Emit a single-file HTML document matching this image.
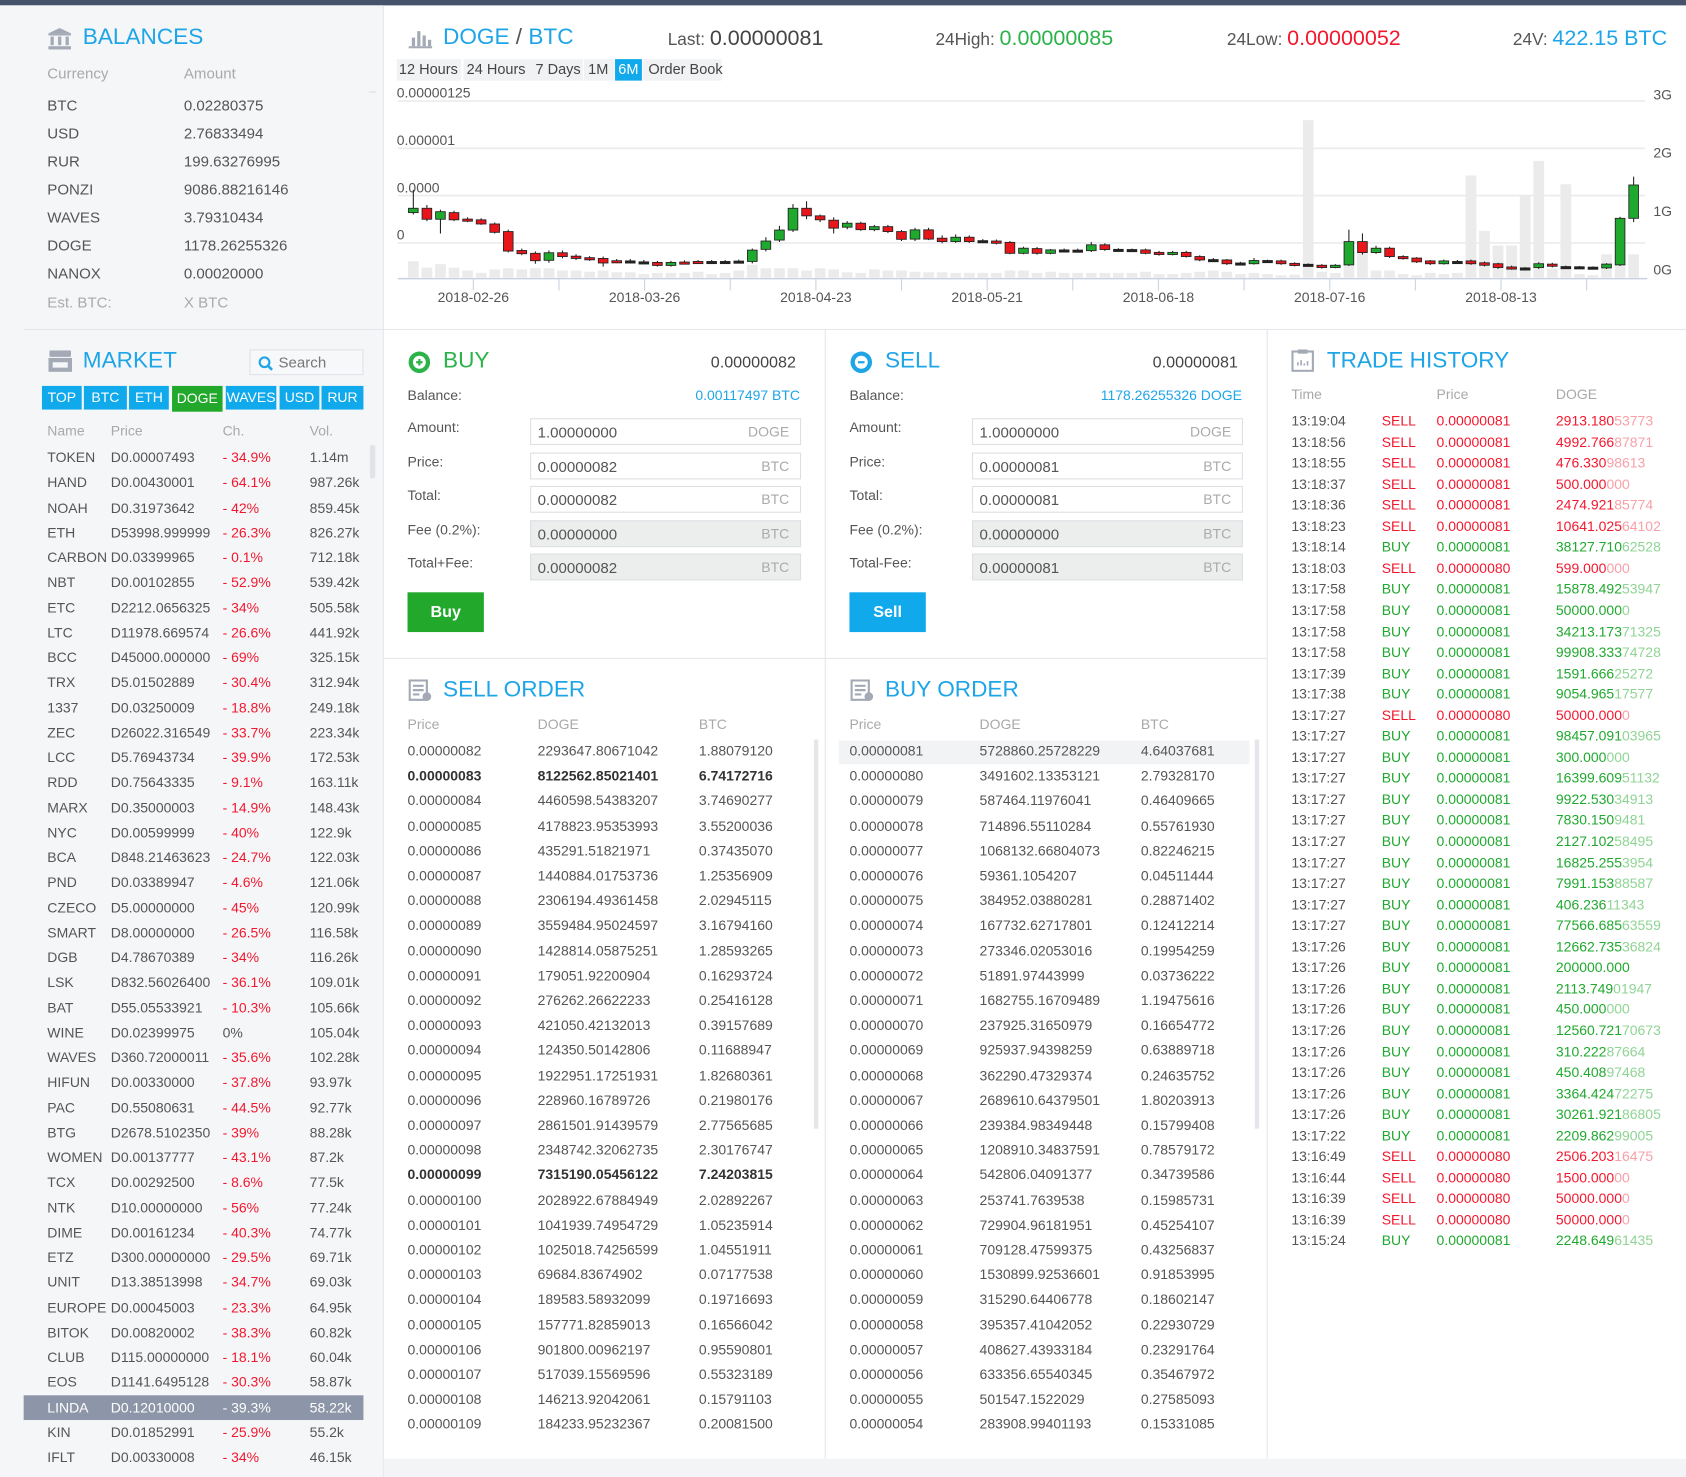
<!DOCTYPE html>
<html><head><meta charset="utf-8">
<style>
*{box-sizing:border-box;margin:0;padding:0}
html,body{width:1686px;height:1477px;overflow:hidden;background:#fff}
body{font-family:"Liberation Sans",sans-serif;color:#555}
#wrap{position:absolute;left:0;top:0;width:1568px;height:1374px;transform:scale(1.07526,1.07496);transform-origin:0 0;background:#fff;font-size:13px}
.a{position:absolute;white-space:nowrap}
.title{font-size:21px;color:#1ea5e8}
.hd{color:#a9a9a9}
.inp{position:absolute;height:25px;border:1px solid #dcdfe3;background:#fff;font-size:14px;padding:4px 6px;color:#555}
.inp span{position:absolute;right:10px;top:4px;color:#aaa;font-size:13px}
.inp.g{background:#eceded}
.red{color:#f3172e}.grn{color:#1fa92e}
</style></head><body>
<div id="wrap">
<div class="a" style="left:0;top:0;width:1568px;height:5px;background:#46546b"></div>
<div class="a" style="left:0;top:5px;width:356px;height:1369px;background:#f5f6f8"></div>
<div class="a" style="left:356px;top:5px;width:1px;height:1369px;background:#e4e6ea"></div>
<div class="a" style="left:22px;top:306px;width:1546px;height:1px;background:#e4e6ea"></div>
<div class="a" style="left:357px;top:612px;width:821px;height:1px;background:#e4e6ea"></div>
<div class="a" style="left:767px;top:307px;width:1px;height:1050px;background:#e4e6ea"></div>
<div class="a" style="left:1178px;top:307px;width:1px;height:1050px;background:#e4e6ea"></div>
<div class="a" style="left:357px;top:1357px;width:1211px;height:17px;background:#f3f4f6"></div>

<!-- balances -->
<svg class="a" style="left:44px;top:25px" width="23" height="21"><path d="M11.5 1 L22 6 L1 6 Z" fill="#a3aab6"/><rect x="1" y="6" width="21" height="2" fill="#a3aab6"/><rect x="3" y="9" width="3" height="8" fill="#a3aab6"/><rect x="10" y="9" width="3" height="8" fill="#a3aab6"/><rect x="17" y="9" width="3" height="8" fill="#a3aab6"/><rect x="1" y="18" width="21" height="3" fill="#a3aab6"/></svg>
<div class="a title" style="left:77px;top:23px">BALANCES</div>
<div class="a hd" style="left:44px;top:60px;font-size:14px">Currency</div>
<div class="a hd" style="left:171px;top:60px;font-size:14px">Amount</div>
<div id="bal"></div>
<div class="a" style="left:343px;top:85px;width:7px;height:1px;background:#ddd"></div>

<!-- market -->
<svg class="a" style="left:45px;top:326px" width="22" height="20"><rect x="1" y="0" width="20" height="6" rx="1" fill="#a3aab6"/><rect x="0" y="7" width="22" height="13" fill="#a3aab6"/><rect x="4" y="11" width="14" height="5" fill="#f5f6f8"/></svg>
<div class="a title" style="left:77px;top:324px">MARKET</div>
<div class="a" style="left:232px;top:325px;width:106px;height:24px;border:1px solid #dfe2e6;background:#f7f8fa">
<svg class="a" style="left:7px;top:5px" width="14" height="14"><circle cx="6" cy="6" r="4.5" stroke="#1ea5e8" stroke-width="2" fill="none"/><line x1="9.5" y1="9.5" x2="13" y2="13" stroke="#1ea5e8" stroke-width="2.4"/></svg>
<span class="a" style="left:26px;top:3px;color:#777;font-size:14px">Search</span></div>
<div id="tabs"></div>
<div class="a hd" style="left:44px;top:393px">Name</div><div class="a hd" style="left:103px;top:393px">Price</div><div class="a hd" style="left:207px;top:393px">Ch.</div><div class="a hd" style="left:288px;top:393px">Vol.</div>
<div class="a" style="left:22px;top:1298px;width:316px;height:23px;background:#8d96a8"></div>
<div class="a" style="left:344px;top:414px;width:5px;height:31px;background:#e1e3e7;border-radius:2px"></div>
<div id="mkt"></div>

<!-- chart header -->
<svg class="a" style="left:380px;top:27px" width="22" height="18"><rect x="0" y="16" width="22" height="2" fill="#a3aab6"/><rect x="3" y="8" width="3" height="8" fill="#a3aab6"/><rect x="8" y="2" width="3" height="14" fill="#a3aab6"/><rect x="13" y="6" width="3" height="10" fill="#a3aab6"/><rect x="18" y="10" width="3" height="6" fill="#a3aab6"/></svg>
<div class="a title" style="left:412px;top:23px">DOGE <span style="color:#555">/</span> BTC</div>
<div class="a" style="left:621px;top:25px;font-size:16px;color:#555">Last: <span style="font-size:20px;color:#444">0.00000081</span></div>
<div class="a" style="left:870px;top:25px;font-size:16px;color:#555">24High: <span style="font-size:20px;color:#2bb34a">0.00000085</span></div>
<div class="a" style="left:1141px;top:25px;font-size:16px;color:#555">24Low: <span style="font-size:20px;color:#f3172e">0.00000052</span></div>
<div class="a" style="left:1407px;top:25px;font-size:16px;color:#555">24V: <span style="font-size:20px;color:#1ea5e8">422.15 BTC</span></div>
<div id="rng"></div>
<svg id="chart" class="a" style="left:360px;top:78px" width="1208" height="220"></svg>

<!-- buy -->
<svg class="a" style="left:379px;top:326px" width="22" height="22"><circle cx="11" cy="11" r="10" fill="#2bb34a"/><circle cx="11" cy="11" r="6" fill="#fff"/><path d="M8 11h6M11 8v6" stroke="#2bb34a" stroke-width="2"/></svg>
<div class="a title" style="left:412px;top:324px;color:#2bb34a">BUY</div>
<div class="a" style="left:661px;top:329px;font-size:15px;color:#444">0.00000082</div>
<div class="a" style="left:379px;top:360px">Balance:</div>
<div class="a" style="right:824px;top:360px;color:#1ea5e8">0.00117497 BTC</div>
<svg class="a" style="left:790px;top:326px" width="22" height="22"><circle cx="11" cy="11" r="10" fill="#1ea5e8"/><circle cx="11" cy="11" r="6" fill="#fff"/><path d="M8 11h6" stroke="#1ea5e8" stroke-width="2"/></svg>
<div class="a title" style="left:823px;top:324px">SELL</div>
<div class="a" style="left:1072px;top:329px;font-size:15px;color:#444">0.00000081</div>
<div class="a" style="left:790px;top:360px">Balance:</div>
<div class="a" style="right:413px;top:360px;color:#1ea5e8">1178.26255326 DOGE</div>
<div id="forms"></div>
<div class="a" style="left:379px;top:551px;width:71px;height:37px;background:#22a92c;color:#fff;font-size:15px;text-align:center;line-height:37px;font-weight:bold">Buy</div>
<div class="a" style="left:790px;top:551px;width:71px;height:37px;background:#10a9ec;color:#fff;font-size:15px;text-align:center;line-height:37px;font-weight:bold">Sell</div>

<!-- orders -->
<svg class="a" style="left:380px;top:632px" width="22" height="21"><rect x="1" y="1" width="16" height="18" fill="none" stroke="#a3aab6" stroke-width="2"/><path d="M4 6h10M4 10h10M4 14h6" stroke="#a3aab6" stroke-width="2"/><circle cx="17" cy="16" r="4" fill="#a3aab6"/></svg>
<div class="a title" style="left:412px;top:630px">SELL ORDER</div>
<svg class="a" style="left:791px;top:632px" width="22" height="21"><rect x="1" y="1" width="16" height="18" fill="none" stroke="#a3aab6" stroke-width="2"/><path d="M4 6h10M4 10h10M4 14h6" stroke="#a3aab6" stroke-width="2"/><circle cx="17" cy="16" r="4" fill="#a3aab6"/></svg>
<div class="a title" style="left:823px;top:630px">BUY ORDER</div>
<div class="a hd" style="left:379px;top:666px">Price</div><div class="a hd" style="left:500px;top:666px">DOGE</div><div class="a hd" style="left:650px;top:666px">BTC</div>
<div class="a hd" style="left:790px;top:666px">Price</div><div class="a hd" style="left:911px;top:666px">DOGE</div><div class="a hd" style="left:1061px;top:666px">BTC</div>
<div class="a" style="left:757px;top:688px;width:4px;height:362px;background:#e4e6ea"></div>
<div class="a" style="left:1167px;top:688px;width:4px;height:362px;background:#e4e6ea"></div>
<div class="a" style="left:780px;top:689px;width:382px;height:22px;background:#f2f3f5"></div>
<div id="orders"></div>

<!-- trade history -->
<svg class="a" style="left:1201px;top:325px" width="21" height="21"><rect x="1" y="2" width="19" height="18" fill="none" stroke="#a3aab6" stroke-width="2"/><rect x="6" y="0" width="9" height="4" fill="#a3aab6"/><path d="M6 15v-3M9 15v-5M12 15v-2M15 15v-4" stroke="#a3aab6" stroke-width="1.5"/></svg>
<div class="a title" style="left:1234px;top:324px">TRADE HISTORY</div>
<div class="a hd" style="left:1201px;top:359px">Time</div><div class="a hd" style="left:1336px;top:359px">Price</div><div class="a hd" style="left:1447px;top:359px">DOGE</div>
<div id="hist"></div>
</div>

<script>
// ---------- chart data (price in 1e-8 BTC, volume in G) ----------
const candleOpen=[66,68.3,62.5,66,62.6,62.2,60,56,46,44.5,40.8,44.8,43,42.2,41.8,40.6,40.5,40,39.7,38.1,39.9,40.2,39.8,40.2,40,40.2,46.6,51.5,56.8,68.3,64.3,62,58.3,60.4,57,58.6,56,52,56.9,52.5,50.7,53,51.2,51,50.3,44.5,47,44.5,46.3,45.8,45.9,49,46.6,46.5,46.3,45,44,45,42.8,41.2,41,39.4,39,40.7,40.5,39.2,38.7,38.2,37,38.4,50.7,44.9,47.2,42.8,42,40.5,39,40.2,40.5,39.5,39,37.3,36.8,37,38.8,37.5,37.4,37.2,36.8,38.4,63];
const candleClose=[68.3,62.5,66.5,62.2,61.8,60,55.6,45.7,44.3,40.6,44.8,42.8,41.8,41.3,39.4,40,40,39.6,38.1,39.7,39.2,39.6,40.2,39.8,40.4,46.2,51,56.8,68.3,64.3,62.2,57.8,60.4,57,58.6,56,51.9,56.9,52,50.7,53,50.7,50.8,49.8,44.5,47.2,44.5,46.3,45.8,46.2,49,46.5,46.2,46.1,44.5,44,45,42.8,41,40.8,39,39,40.7,40.3,39,38.2,38.3,37,38.2,50.7,44.9,47.2,42.8,41.8,40,39,40.5,39.8,39,38.2,37,36.5,36.4,39,37.7,37.1,37,36.8,38.8,63,80.6];
const candleHigh=[78,70,67.5,67,63.5,63,60.8,57,47,45.5,46,46,44,43,42.8,41.5,41.5,41,40.5,40.5,40.8,41,41,41,41.2,47,53,59,70.5,72,65,63.5,61.5,61.2,59.5,59.5,56.8,58,58,54,54.5,54,52,51.8,51,48,47.8,46.8,47,47,50.5,49.8,47.2,47,47,45.8,45.8,45.8,43.5,42,41.5,40,42,41.2,41.2,39.8,39.2,38.8,38.8,57,55,48.5,48,43.5,42.5,41,41.2,41,41.2,40.2,39.5,38,37.2,39.8,39.5,38,37.8,37.6,39.3,63.8,85];
const candleLow=[65,61.5,55,61.5,61,59.5,55,45,43.5,39,39.5,41.8,41,40.5,37.5,39.3,39.2,39,37.5,37.5,38.6,39,39.2,39.2,39.5,39.2,45.5,50.5,55.8,62.5,61,55,57.2,56.4,56.2,55.2,51,51,51.5,49.8,50,50,50.2,49.2,44,44,43.8,44,45.2,45.3,45.2,45.8,45.6,45.6,44,43.3,43.4,42.2,40.3,40.2,38.3,38.3,38.5,39.8,38.4,37.6,37.7,36.4,36.6,37.8,43.8,44.2,42,41.2,39.4,38.3,38.5,39.2,38.4,37.6,36.3,35.8,35.5,36.2,37,36.6,36.5,36.2,36.2,37.8,61];
const volumes=[0.28,0.17,0.23,0.17,0.12,0.08,0.14,0.16,0.14,0.16,0.16,0.12,0.12,0.1,0.12,0.09,0.09,0.06,0.08,0.08,0.08,0.1,0.06,0.08,0.12,0.22,0.16,0.16,0.16,0.12,0.16,0.14,0.09,0.08,0.14,0.12,0.12,0.1,0.09,0.09,0.08,0.08,0.08,0.08,0.12,0.12,0.08,0.1,0.08,0.08,0.08,0.08,0.08,0.08,0.1,0.06,0.06,0.08,0.1,0.12,0.1,0.06,0.08,0.06,0.04,0.05,2.7,0.1,0.08,0.5,0.45,0.12,0.12,0.06,0.04,0.08,0.06,0.08,1.75,0.8,0.55,0.55,1.4,2.0,0.15,1.6,0.06,0.04,0.4,0.4,0.4];
const priceTicks=[125,100,75,50];
const priceTickLabels=["0.00000125","0.000001","0.0000","0"];
const volTicks=[3,2,1,0];
const volTickLabels=["3G","2G","1G","0G"];
const dateTickDays=[0,14,28,42,56,70,84,98,112,126,140,154,168,182];
const dateTickLabels=["2018-02-26","","2018-03-26","","2018-04-23","","2018-05-21","","2018-06-18","","2018-07-16","","2018-08-13",""];

const OX=360,OY=78; // svg offset in page coords
function xCandle(i){return 384.4+i*12.61-OX}
function xDay(d){return 440.2+d*5.689-OX}
function yPrice(u){return 93.9+(125-u)*1.761-OY}
function yVol(v){return 258.2-v*54.25-OY}
const NS='http://www.w3.org/2000/svg';
const svg=document.getElementById('chart');
function mk(tag,at){const e=document.createElementNS(NS,tag);for(const k in at)e.setAttribute(k,at[k]);svg.appendChild(e);return e}
priceTicks.forEach((t,i)=>{
  const g=mk('line',{x1:10,x2:1170,y1:yPrice(t),y2:yPrice(t),stroke:'#e9ebee','stroke-width':1.5});
  
  
  const tx=mk('text',{x:9,y:yPrice(t)-3,'font-size':13,fill:'#555','font-family':'Liberation Sans'});
  tx.textContent=priceTickLabels[i];
  
  
});
volTicks.forEach((t,i)=>{
  const tx=mk('text',{x:1195,y:yVol(t)-3,'font-size':13,fill:'#555','text-anchor':'end','font-family':'Liberation Sans'});
  tx.textContent=volTickLabels[i];
  
  
});
volumes.forEach((v,i)=>{
  const r=mk('rect',{x:xCandle(i)-5,y:yVol(v),width:10,height:yVol(0)-yVol(v),fill:'#ebebeb'});
  
  
});
const ax=mk('line',{x1:10,x2:1172,y1:yVol(0)+1,y2:yVol(0)+1,stroke:'#c9d3e0','stroke-width':1.5});


dateTickDays.forEach((d,i)=>{
  const l=mk('line',{x1:xDay(d),x2:xDay(d),y1:yVol(0)+1,y2:yVol(0)+12,stroke:'#c9d3e0'});
  
  
  if(dateTickLabels[i]){const tx=mk('text',{x:xDay(d),y:203,'font-size':13,fill:'#555','text-anchor':'middle','font-family':'Liberation Sans'});
  tx.textContent=dateTickLabels[i];
  
  }
});
candleOpen.forEach((o,i)=>{
  const c=candleClose[i],x=xCandle(i);
  const w=mk('line',{x1:x,x2:x,y1:yPrice(candleHigh[i]),y2:yPrice(candleLow[i]),stroke:'#222','stroke-width':1});
  
  
  const top=yPrice(Math.max(o,c)),bot=yPrice(Math.min(o,c));
  const doji=Math.abs(o-c)<0.6;
  const col=doji?'#222':(c>o?'#1fa92e':'#e8161b');
  const b=mk('rect',{x:x-4.5,y:top,width:9,height:Math.max(2,bot-top),fill:col,stroke:'#222','stroke-width':0.8});
  
  
});

// ---------- page content ----------
function el(parent,html,style,name,inter){const d=document.createElement('div');d.className='a';d.style.cssText=style;d.innerHTML=html;parent.appendChild(d);
  
  
  return d}
const bal=document.getElementById('bal');
[["BTC","0.02280375"],["USD","2.76833494"],["RUR","199.63276995"],["PONZI","9086.88216146"],["WAVES","3.79310434"],["DOGE","1178.26255326"],["NANOX","0.00020000"]].forEach((r,i)=>{
  el(bal,r[0],`left:44px;top:${90+i*26}px;font-size:14px;color:#555`,'balance-currency',false);
  el(bal,r[1],`left:171px;top:${90+i*26}px;font-size:14px;color:#555`,'balance-amount',false);
});
el(bal,'Est. BTC:','left:44px;top:273px;font-size:14px;color:#aaa','est-btc-label',false);
el(bal,'X BTC','left:171px;top:273px;font-size:14px;color:#aaa','est-btc-value',false);

const tabs=document.getElementById('tabs');
[["TOP",39,37],["BTC",78,40],["ETH",120,37],["DOGE",160,47],["WAVES",210,47],["USD",260,37],["RUR",299,39]].forEach(t=>{
  const g=t[0]=='DOGE';
  el(tabs,t[0],`left:${t[1]}px;top:359px;width:${t[2]}px;height:${g?24:22}px;background:${g?'#22a92c':'#10a9ec'};color:#fff;text-align:center;line-height:${g?24:22}px;font-size:13px`,'market-tab-'+t[0].toLowerCase(),true);
});
const mkt=document.getElementById('mkt');
const M=`TOKEN|D0.00007493|34.9%|1.14m
HAND|D0.00430001|64.1%|987.26k
NOAH|D0.31973642|42%|859.45k
ETH|D53998.999999|26.3%|826.27k
CARBON|D0.03399965|0.1%|712.18k
NBT|D0.00102855|52.9%|539.42k
ETC|D2212.0656325|34%|505.58k
LTC|D11978.669574|26.6%|441.92k
BCC|D45000.000000|69%|325.15k
TRX|D5.01502889|30.4%|312.94k
1337|D0.03250009|18.8%|249.18k
ZEC|D26022.316549|33.7%|223.34k
LCC|D5.76943734|39.9%|172.53k
RDD|D0.75643335|9.1%|163.11k
MARX|D0.35000003|14.9%|148.43k
NYC|D0.00599999|40%|122.9k
BCA|D848.21463623|24.7%|122.03k
PND|D0.03389947|4.6%|121.06k
CZECO|D5.00000000|45%|120.99k
SMART|D8.00000000|26.5%|116.58k
DGB|D4.78670389|34%|116.26k
LSK|D832.56026400|36.1%|109.01k
BAT|D55.05533921|10.3%|105.66k
WINE|D0.02399975|0|105.04k
WAVES|D360.72000011|35.6%|102.28k
HIFUN|D0.00330000|37.8%|93.97k
PAC|D0.55080631|44.5%|92.77k
BTG|D2678.5102350|39%|88.28k
WOMEN|D0.00137777|43.1%|87.2k
TCX|D0.00292500|8.6%|77.5k
NTK|D10.00000000|56%|77.24k
DIME|D0.00161234|40.3%|74.77k
ETZ|D300.00000000|29.5%|69.71k
UNIT|D13.38513998|34.7%|69.03k
EUROPE|D0.00045003|23.3%|64.95k
BITOK|D0.00820002|38.3%|60.82k
CLUB|D115.00000000|18.1%|60.04k
EOS|D1141.6495128|30.3%|58.87k
LINDA|D0.12010000|39.3%|58.22k
KIN|D0.01852991|25.9%|55.2k
IFLT|D0.00330008|34%|46.15k`.split('\n');
M.forEach((l,i)=>{const r=l.split('|');const y=418+i*23.25;const sel=r[0]=='LINDA';const tc=sel?'#fff':'#555';
  el(mkt,r[0],`left:44px;top:${y}px;color:${tc}`,'market-name',true);
  el(mkt,r[1],`left:103px;top:${y}px;color:${tc}`,'market-price',false);
  el(mkt,r[2]=='0'?'0%':'- '+r[2],`left:207px;top:${y}px;color:${sel?'#fff':(r[2]=='0'?'#555':'#f3172e')}`,'market-change',false);
  el(mkt,r[3],`left:288px;top:${y}px;color:${tc}`,'market-volume',false);
});

const rng=document.getElementById('rng');
[["12 Hours",371],["24 Hours",434],["7 Days",498],["1M",547],["6M",575],["Order Book",603]].forEach(t=>{
  const on=t[0]=='6M';
  el(rng,t[0],`left:${t[1]-(on?3:0)}px;top:55px;height:20px;line-height:20px;padding:0 ${on?3:0}px;font-size:13.5px;color:${on?'#fff':'#444'};background:${on?'#10a9ec':'transparent'}`,'range-'+t[0].toLowerCase().replace(' ','-'),true);
});
[[369,60],[431,64],[494,48],[543,28],[598,73]].forEach(b=>{el(rng,'',`left:${b[0]}px;top:55px;width:${b[1]}px;height:20px;background:#f1f2f4;z-index:-1`,'range-tab-bg',false);});

const forms=document.getElementById('forms');
function form(x,vals){
  const labels=["Amount:","Price:","Total:","Fee (0.2%):",x<700?"Total+Fee:":"Total-Fee:"];
  const units=["DOGE","BTC","BTC","BTC","BTC"];
  labels.forEach((l,i)=>{
    el(forms,l,`left:${x}px;top:${390+i*31.5}px`,'form-label',false);
    const d=el(forms,vals[i]+`<span>${units[i]}</span>`,`left:${x+114}px;top:${389+i*31.5}px;width:252px`,'form-input-'+l.replace(/[^a-z]/gi,'').toLowerCase(),i<3);
    d.className='a inp'+(i>=3?' g':'');
    d.style.position='absolute';
  });
}
form(379,["1.00000000","0.00000082","0.00000082","0.00000000","0.00000082"]);
form(790,["1.00000000","0.00000081","0.00000081","0.00000000","0.00000081"]);

const orders=document.getElementById('orders');
const SO=`82|2293647.80671042|1.88079120
83|8122562.85021401|6.74172716
84|4460598.54383207|3.74690277
85|4178823.95353993|3.55200036
86|435291.51821971|0.37435070
87|1440884.01753736|1.25356909
88|2306194.49361458|2.02945115
89|3559484.95024597|3.16794160
90|1428814.05875251|1.28593265
91|179051.92200904|0.16293724
92|276262.26622233|0.25416128
93|421050.42132013|0.39157689
94|124350.50142806|0.11688947
95|1922951.17251931|1.82680361
96|228960.16789726|0.21980176
97|2861501.91439579|2.77565685
98|2348742.32062735|2.30176747
99|7315190.05456122|7.24203815
100|2028922.67884949|2.02892267
101|1041939.74954729|1.05235914
102|1025018.74256599|1.04551911
103|69684.83674902|0.07177538
104|189583.58932099|0.19716693
105|157771.82859013|0.16566042
106|901800.00962197|0.95590801
107|517039.15569596|0.55323189
108|146213.92042061|0.15791103
109|184233.95232367|0.20081500`.split('\n');
const BO=`81|5728860.25728229|4.64037681
80|3491602.13353121|2.79328170
79|587464.11976041|0.46409665
78|714896.55110284|0.55761930
77|1068132.66804073|0.82246215
76|59361.1054207|0.04511444
75|384952.03880281|0.28871402
74|167732.62717801|0.12412214
73|273346.02053016|0.19954259
72|51891.97443999|0.03736222
71|1682755.16709489|1.19475616
70|237925.31650979|0.16654772
69|925937.94398259|0.63889718
68|362290.47329374|0.24635752
67|2689610.64379501|1.80203913
66|239384.98349448|0.15799408
65|1208910.34837591|0.78579172
64|542806.04091377|0.34739586
63|253741.7639538|0.15985731
62|729904.96181951|0.45254107
61|709128.47599375|0.43256837
60|1530899.92536601|0.91853995
59|315290.64406778|0.18602147
58|395357.41042052|0.22930729
57|408627.43933184|0.23291764
56|633356.65540345|0.35467972
55|501547.1522029|0.27585093
54|283908.99401193|0.15331085`.split('\n');
function ob(list,x,kind){list.forEach((l,i)=>{const r=l.split('|');const y=691+i*23.2;const p='0.'+('00000000'+r[0]).slice(-8);
  const bold=(kind=='sell'&&(r[0]=='83'||r[0]=='99'))?'font-weight:bold;color:#333;':'';
  el(orders,p,`left:${x}px;top:${y}px;${bold}`,kind+'-order-price',true);
  el(orders,r[1],`left:${x+121}px;top:${y}px;${bold}`,kind+'-order-amount',false);
  el(orders,r[2],`left:${x+271}px;top:${y}px;${bold}`,kind+'-order-total',false);
});}
ob(SO,379,'sell');ob(BO,790,'buy');

const hist=document.getElementById('hist');
const H=`13:19:04|S|81|2913.18053773
13:18:56|S|81|4992.76687871
13:18:55|S|81|476.33098613
13:18:37|S|81|500.000000
13:18:36|S|81|2474.92185774
13:18:23|S|81|10641.02564102
13:18:14|B|81|38127.71062528
13:18:03|S|80|599.000000
13:17:58|B|81|15878.49253947
13:17:58|B|81|50000.0000
13:17:58|B|81|34213.17371325
13:17:58|B|81|99908.33374728
13:17:39|B|81|1591.66625272
13:17:38|B|81|9054.96517577
13:17:27|S|80|50000.0000
13:17:27|B|81|98457.09103965
13:17:27|B|81|300.000000
13:17:27|B|81|16399.60951132
13:17:27|B|81|9922.53034913
13:17:27|B|81|7830.1509481
13:17:27|B|81|2127.10258495
13:17:27|B|81|16825.2553954
13:17:27|B|81|7991.15388587
13:17:27|B|81|406.23611343
13:17:27|B|81|77566.68563559
13:17:26|B|81|12662.73536824
13:17:26|B|81|200000.000
13:17:26|B|81|2113.74901947
13:17:26|B|81|450.000000
13:17:26|B|81|12560.72170673
13:17:26|B|81|310.22287664
13:17:26|B|81|450.40897468
13:17:26|B|81|3364.42472275
13:17:26|B|81|30261.92186805
13:17:22|B|81|2209.86299005
13:16:49|S|80|2506.20316475
13:16:44|S|80|1500.00000
13:16:39|S|80|50000.0000
13:16:39|S|80|50000.0000
13:15:24|B|81|2248.64961435`.split('\n');
H.forEach((l,i)=>{const r=l.split('|');const y=384+i*19.55;const s=r[1]=='S';
  const c=s?'#f3172e':'#1fa92e',lc=s?'#f7a0a8':'#8fd494';
  const dot=r[3].indexOf('.');const a=r[3].slice(0,dot+4),b=r[3].slice(dot+4);
  el(hist,r[0],`left:1201px;top:${y}px;color:#555`,'trade-time',false);
  el(hist,s?'SELL':'BUY',`left:1285px;top:${y}px;color:${c}`,'trade-side',false);
  el(hist,'0.000000'+r[2],`left:1336px;top:${y}px;color:${c}`,'trade-price',false);
  el(hist,`${a}<span style="color:${lc}">${b}</span>`,`left:1447px;top:${y}px;color:${c}`,'trade-amount',false);
});
</script>
</body></html>
